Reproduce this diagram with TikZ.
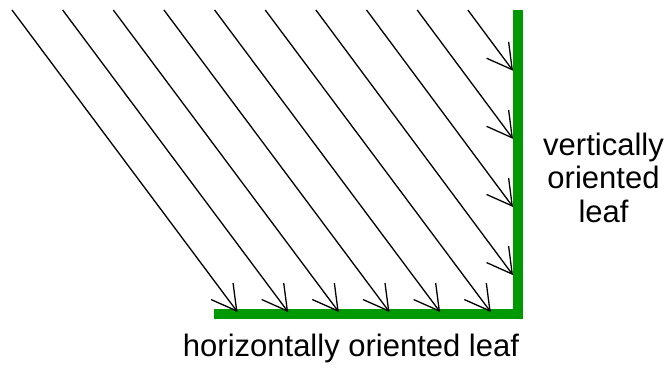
\documentclass[tikz,border=0pt]{standalone}
\usepackage{fontspec}
\setmainfont{Liberation Sans}
\usepackage{xcolor}
\usepackage{tikz}
\usetikzlibrary{arrows.meta, positioning, calc}
\definecolor{leafgreen}{RGB}{0,153,0}

\begin{document}
\begin{tikzpicture}[
    x=1pt, y=-1pt,
    leaf/.style={draw=leafgreen, line width=10pt, line join=miter},
    ray/.style={-{Straight Barb[length=24.5pt, width=27.5pt]}, line width=1.3pt},
    lbl/.style={font=\fontsize{31}{33.5}\selectfont, align=center, inner sep=0pt},
]
    \useasboundingbox (0,0) rectangle (667,369);

    % Leaves
    \coordinate (hleft) at (214,314);
    \coordinate (corner) at (518,314);
    \coordinate (vtop) at (518,10);
    \draw[leaf] (hleft) -- (corner) -- (vtop);

    % Rays onto the horizontal leaf
    \foreach \i in {0,...,5} {
        \pgfmathsetmacro{\xs}{12+50.65*\i}
        \coordinate (src\i) at (\xs,10);
        \draw[ray] (src\i) -- ++(225.5,302);
    }

    % Rays onto the vertical leaf
    \foreach \i in {6,...,9} {
        \pgfmathsetmacro{\xs}{12+50.65*\i}
        \pgfmathsetmacro{\ye}{10+1.345*(513-\xs)}
        \coordinate (src\i) at (\xs,10);
        \draw[ray] (src\i) -- (513,\ye);
    }

    % Labels
    \node[lbl, anchor=base] (vlabel) at (603.5,222) {vertically\\oriented\\leaf};
    \node[lbl, anchor=base] (hlabel) at (351,356) {horizontally oriented leaf};
\end{tikzpicture}
\end{document}
